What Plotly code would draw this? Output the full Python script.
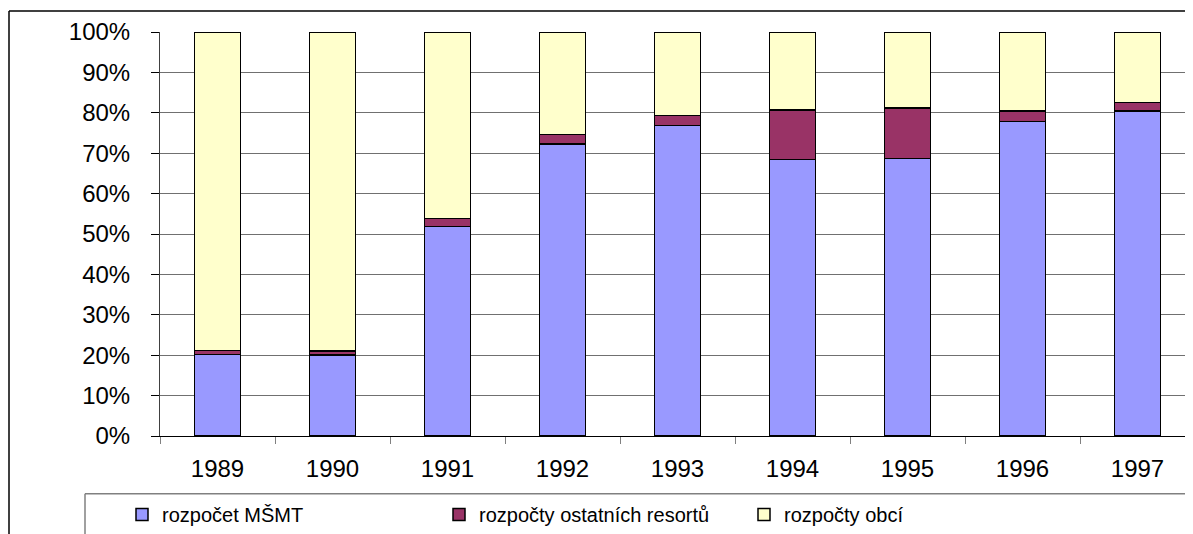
import plotly.graph_objects as go

years = ["1989", "1990", "1991", "1992", "1993", "1994", "1995", "1996", "1997"]
msmt = [20.2, 20.0, 51.9, 72.3, 76.8, 68.5, 68.7, 77.8, 80.5]
ostatni = [1.0, 1.1, 1.9, 2.3, 2.5, 12.2, 12.5, 2.6, 2.0]
obce = [round(100 - a - b, 1) for a, b in zip(msmt, ostatni)]

names = ["rozpočet MŠMT", "rozpočty ostatních resortů", "rozpočty obcí"]
colors = ["#9999FF", "#993366", "#FFFFCC"]
series = [msmt, ostatni, obce]

# page body has an 8px margin; work in reference pixel coords and shift
OFF = 8
W, H = 1193 - OFF, 534 - OFF
L = 160 - OFF
T = 32 - OFF
B = H - (437 - OFF)
pw = W - L
ph = H - T - B
cat_w = 115.0


def px(x):
    return (x - OFF - L) / pw


def py(y):
    return (H - B - (y - OFF)) / ph


fig = go.Figure()
legend_names = ["legend2", "legend3", "legend4"]
for name, col, vals, lg in zip(names, colors, series, legend_names):
    fig.add_trace(go.Bar(
        x=years, y=vals, name=name, width=0.4,
        marker=dict(color=col, line=dict(color="black", width=1.5)),
        legend=lg,
    ))

font_tick = dict(family="Liberation Sans, Arial", size=24, color="black")
font_leg = dict(family="Liberation Sans, Arial", size=20, color="black")

leg_common = dict(orientation="h", yanchor="middle", xanchor="left",
                  bgcolor="rgba(0,0,0,0)", font=font_leg, y=py(516))

fig.update_layout(
    width=W, height=H,
    margin=dict(l=L, r=0, t=T, b=B),
    paper_bgcolor="white", plot_bgcolor="white",
    barmode="stack",
    showlegend=True,
    legend2=dict(x=px(122), **leg_common),
    legend3=dict(x=px(439), **leg_common),
    legend4=dict(x=px(744), **leg_common),
    xaxis=dict(
        range=[-0.5, -0.5 + pw / cat_w],
        tickson="boundaries", ticks="outside", ticklen=7, tickcolor="#808080",
        showgrid=False, showline=True, linecolor="black", linewidth=1,
        tickfont=font_tick, ticklabelstandoff=11,
    ),
    yaxis=dict(
        range=[0, 100], dtick=10, ticksuffix="%",
        ticks="outside", ticklen=8, tickcolor="black",
        showgrid=True, gridcolor="#707070", gridwidth=1,
        showline=True, linecolor="#404040", linewidth=1,
        zeroline=False,
        tickfont=font_tick, ticklabelstandoff=16,
    ),
    shapes=[
        dict(type="line", xref="paper", yref="paper", x0=px(9), x1=px(9), y0=py(540), y1=py(11),
             line=dict(color="black", width=1.5)),
        dict(type="line", xref="paper", yref="paper", x0=px(9), x1=px(1200), y0=py(11), y1=py(11),
             line=dict(color="black", width=1.5)),
        dict(type="line", xref="paper", yref="paper", x0=px(85), x1=px(1200), y0=py(495), y1=py(495),
             line=dict(color="#808080", width=1.5)),
        dict(type="line", xref="paper", yref="paper", x0=px(85), x1=px(85), y0=py(495), y1=py(540),
             line=dict(color="#808080", width=1.5)),
    ],
)

fig.write_html("out.html")
